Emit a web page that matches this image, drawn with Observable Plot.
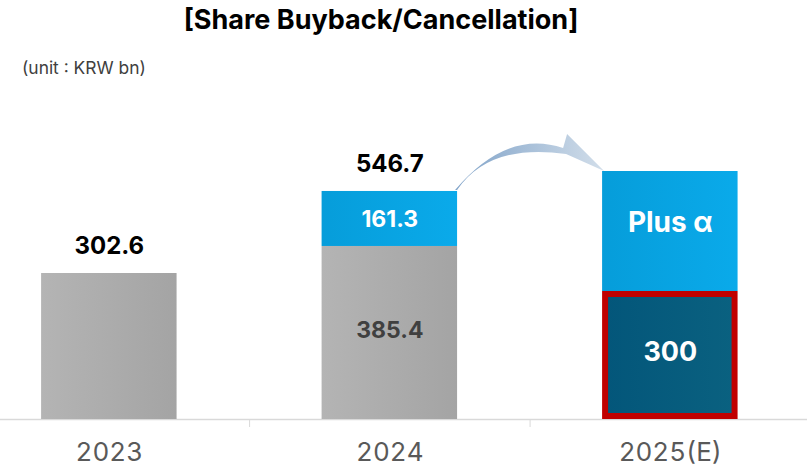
<!DOCTYPE html>
<html><head><meta charset="utf-8">
<script src="https://cdn.jsdelivr.net/npm/d3@7"></script>
<script src="https://cdn.jsdelivr.net/npm/@observablehq/plot@0.6"></script>
<style>
body{margin:0;background:#fff;}
#wrap{position:relative;width:807px;height:467px;overflow:hidden;font-family:Inter,"Noto Sans",sans-serif;}
#title{position:absolute;left:0;top:0;width:762px;text-align:center;font-size:27px;font-weight:700;line-height:40px;color:#000;}
#unit{position:absolute;left:22px;top:56px;font-size:17.4px;line-height:24px;color:#404040;}
#chart{position:absolute;left:0;top:80px;}
</style></head><body>
<div id="wrap">
  <div id="title">[Share Buyback/Cancellation]</div>
  <div id="unit">(unit : KRW bn)</div>
  <div id="chart"></div>
</div>
<script>
// Categories
const years = ["2023", "2024", "2025(E)"];
// Bar heights as drawn in the picture (the original is not drawn to scale), KRW bn
const barBase = [302.6, 358.6, 265.3];
const barTop  = [0, 114.0, 248.7];
// Texts printed on the bars
const totalLabels = ["302.6", "546.7", ""];
const baseLabels  = ["", "385.4", "300"];
const topLabels   = ["", "161.3", "Plus α"];
const baseKind    = ["actual", "actual", "plan"];

const rows = years.map((year, i) => ({
  i, year, base: barBase[i], top: barTop[i],
  total: totalLabels[i], baseLabel: baseLabels[i], topLabel: topLabels[i], kind: baseKind[i]
}));

const hw = 0.2415; // half bar width in category units
const X1 = d => d.i - hw, X2 = d => d.i + hw;

function arrowMark(index, scales) {
  const x = scales.x, y = scales.y;
  const s = rows[1], t = rows[2];
  const sx = x(s.i + hw), sy = y(s.base + s.top);
  const tx = x(t.i - hw), ty = y(t.base + t.top);
  const d = [
    `M${sx},${sy - 1}`,
    `Q${sx + 32},${sy - 48} ${tx - 36},${ty - 17}`,
    `L${tx + 2},${ty}`,
    `L${tx - 35},${ty - 37}`,
    `L${tx - 39},${ty - 23}`,
    `Q${sx + 50},${sy - 62} ${sx - 2},${sy - 1}`,
    "Z"
  ].join(" ");
  const p = document.createElementNS("http://www.w3.org/2000/svg", "path");
  p.setAttribute("d", d);
  p.setAttribute("fill", "url(#gArrow)");
  return p;
}

const chart = Plot.plot({
  width: 807, height: 387,
  marginTop: 0, marginBottom: 48, marginLeft: 0, marginRight: 0,
  x: {type: "linear", domain: [-0.388, 2.489]},
  y: {domain: [0, 702.6], axis: null},
  style: {fontFamily: "Inter, 'Noto Sans', sans-serif", background: "transparent", overflow: "visible"},
  marks: [
    Plot.ruleY([0], {stroke: "#d9d9d9", strokeWidth: 1.5}),
    Plot.axisX({ticks: [0.5, 1.5], tickFormat: () => "", tickSize: 8, stroke: "#d9d9d9", label: null}),
    Plot.axisX({ticks: [0, 1, 2], tickFormat: i => years[i], tickSize: 0, tickPadding: 23, fontSize: 26, color: "#595959", label: null}),
    Plot.rect(rows.filter(d => d.kind === "actual"), {x1: X1, x2: X2, y1: 0, y2: "base", fill: "url(#gGray)"}),
    Plot.rect(rows.filter(d => d.kind === "plan"), {x1: X1, x2: X2, y1: 0, y2: "base", fill: "url(#gDark)", stroke: "#c00000", strokeWidth: 6, inset: 3}),
    Plot.rect(rows.filter(d => d.top > 0), {x1: X1, x2: X2, y1: "base", y2: d => d.base + d.top, fill: "url(#gBlue)"}),
    arrowMark,
    Plot.text(rows.filter(d => d.total), {x: "i", y: d => d.base + d.top, text: "total", dy: -27, fontSize: 24, fontWeight: 700, fill: "#000"}),
    Plot.text(rows.filter(d => d.baseLabel && d.kind === "actual"), {x: "i", y: d => d.base / 2, text: "baseLabel", dy: -2, fontSize: 23, fontWeight: 700, fill: "#404040"}),
    Plot.text(rows.filter(d => d.baseLabel && d.kind === "plan"), {x: "i", y: d => d.base / 2, text: "baseLabel", dy: -3, fontSize: 27, fontWeight: 700, fill: "#fff"}),
    Plot.text(rows.filter(d => d.topLabel && d.kind === "actual"), {x: "i", y: d => d.base + d.top / 2, text: "topLabel", dy: 1, fontSize: 23, fontWeight: 700, fill: "#fff"}),
    Plot.text(rows.filter(d => d.topLabel && d.kind === "plan"), {x: "i", y: d => d.base + d.top / 2, text: "topLabel", dy: -8, fontSize: 28, fontWeight: 700, fill: "#fff"})
  ]
});

const defs = document.createElementNS("http://www.w3.org/2000/svg", "defs");
defs.innerHTML = `
  <linearGradient id="gGray" x1="0" x2="1" y1="0" y2="0">
    <stop offset="0" stop-color="#b4b4b4"/><stop offset="1" stop-color="#a4a4a4"/>
  </linearGradient>
  <linearGradient id="gBlue" x1="0" x2="1" y1="0" y2="0">
    <stop offset="0" stop-color="#069dda"/><stop offset="1" stop-color="#0aaaea"/>
  </linearGradient>
  <linearGradient id="gDark" x1="0" x2="1" y1="0" y2="0">
    <stop offset="0" stop-color="#03567a"/><stop offset="1" stop-color="#0a6180"/>
  </linearGradient>
  <linearGradient id="gArrow" x1="0" x2="1" y1="0" y2="0">
    <stop offset="0" stop-color="#7fa2c8"/><stop offset="1" stop-color="#d2deea"/>
  </linearGradient>`;
chart.insertBefore(defs, chart.firstChild);
document.getElementById("chart").appendChild(chart);
</script>
</body></html>
